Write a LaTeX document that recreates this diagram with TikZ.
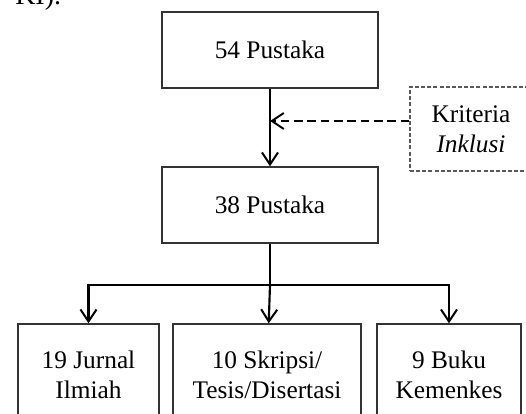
\documentclass[tikz,border=0pt]{standalone}
\usepackage{fontspec}
\setmainfont{Liberation Serif}
\usetikzlibrary{arrows.meta}

\begin{document}
\begin{tikzpicture}[x=0.75pt, y=-0.75pt,
    box/.style={draw=black!80, line width=1.1pt, align=center, inner sep=0pt,
        font=\fontsize{19}{22.5}\selectfont},
    dashbox/.style={box, draw=black!65, dash pattern=on 3pt off 1.6pt},
    flow/.style={line width=1.6pt, -{Straight Barb[length=9pt, width=12pt, line width=1.5pt]}},
    flowdash/.style={flow, dash pattern=on 6.5pt off 3.5pt}]

    % Page frame, cut like the original
    \clip (0,0) rectangle (526,414);
    \useasboundingbox (0,0) rectangle (526,414);

    % Line of the running text above the chart
    \node[anchor=base west, inner sep=0pt, font=\fontsize{21}{25}\selectfont] (prev) at (15,5) {KI).};

    % Boxes of the chart
    \node[box, minimum width=162pt, minimum height=57pt] (pustakaA) at (270,50) {54 Pustaka};
    \node[box, minimum width=162pt, minimum height=57pt] (pustakaB) at (270,205) {38 Pustaka};
    \node[dashbox, minimum width=91.5pt, minimum height=63pt] (inklusi) at (471,129) {Kriteria\\\textit{Inklusi}};

    % Bottom row, running past the lower edge
    \node[box, minimum width=105.75pt, minimum height=76.5pt] (jurnal) at (88.5,375) {19 Jurnal\\Ilmiah};
    \node[box, minimum width=141pt, minimum height=76.5pt] (skripsi) at (267,375) {10 Skripsi/\\Tesis/Disertasi};
    \node[box, minimum width=108pt, minimum height=76.5pt] (buku) at (449,375) {9 Buku\\Kemenkes};

    % Main flow
    \coordinate (cut) at (270,121); % where the dashed arrow meets the line
    \coordinate (split) at (270,285); % branching bar
    \draw[flow] (pustakaA) -- (pustakaB);
    \draw[flowdash] (inklusi.west |- cut) -- (cut);

    % Branches to the three kinds of sources
    \draw[line width=1.6pt] (pustakaB) -- (split);
    \draw[flow] (split) -- (skripsi);
    \draw[flow] (split) -| (jurnal);
    \draw[flow] (split) -| (buku);
\end{tikzpicture}
\end{document}
